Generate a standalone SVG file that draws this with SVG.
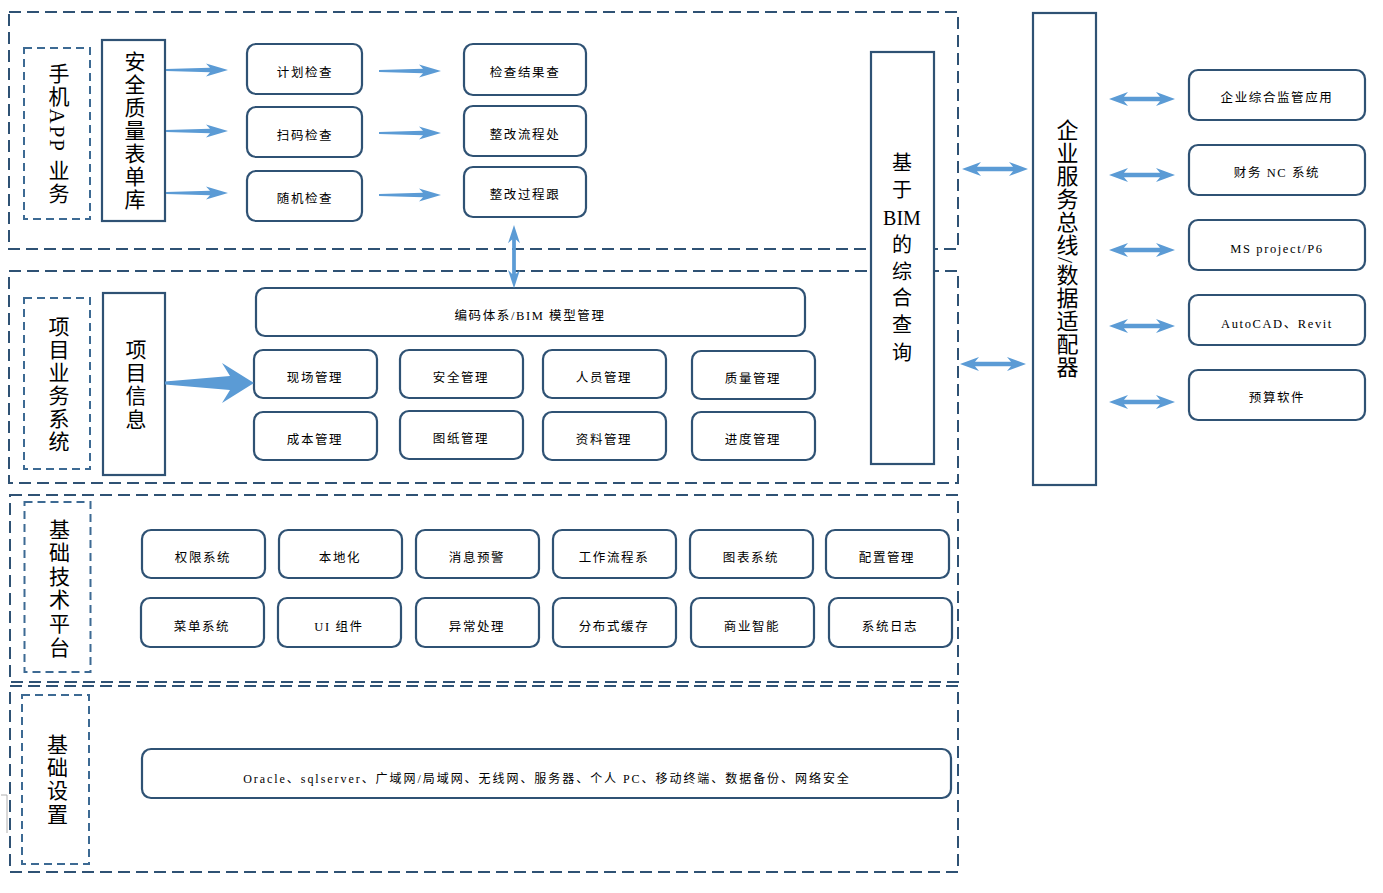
<svg xmlns="http://www.w3.org/2000/svg" xmlns:xlink="http://www.w3.org/1999/xlink" width="1383" height="893" viewBox="0 0 1383 893">
<style>
.outer{fill:none;stroke:#2f5274;stroke-width:2;stroke-dasharray:12 6}
.inner{fill:none;stroke:#3d6a93;stroke-width:2;stroke-dasharray:8 5}
.box{fill:#fff;stroke:#2f5274;stroke-width:2.2}
.rb{fill:#fff;stroke:#2f5274;stroke-width:2.2}
.lbl{font-family:"Liberation Serif","Noto Sans CJK SC",serif;font-size:12.5px;letter-spacing:1.6px;text-anchor:middle;fill:#000}
.vt{font-family:"Liberation Serif","Noto Sans CJK SC",serif;font-size:21px;writing-mode:vertical-rl;text-anchor:middle;fill:#000}
.arr{fill:#5b9bd5}
</style>
<defs>
<path id="ar" d="M0,-1 L44,-2.2 L40,-6.5 L62,0 L40,6.5 L44,2.2 L0,1 Z"/>
<path id="dar" d="M0,0 L19,-7 L15,-2.2 L51,-2.2 L47,-7 L66,0 L47,7 L51,2.2 L15,2.2 L19,7 Z"/>
</defs>
<rect width="1383" height="893" fill="#fff"/>

<g id="containers">
<rect class="outer" x="9" y="12" width="949" height="237"/>
<rect class="outer" x="9" y="271" width="949" height="212"/>
<rect class="outer" x="10" y="495" width="948" height="187"/>
<rect class="outer" x="10" y="686" width="948" height="186"/>
<path d="M1,795 H7 V833" fill="none" stroke="#b0b0b0" stroke-width="1"/>
</g>

<g id="mobile-app">
<rect class="inner" x="24" y="48" width="66" height="171"/>
<text class="vt" x="57" y="134" style="letter-spacing:2px">手机APP 业务</text>
</g>
<g id="quality-form-lib">
<rect class="box" x="102" y="40" width="63" height="181"/>
<text class="vt" x="133" y="131" style="letter-spacing:2px">安全质量表单库</text>
</g>
<g id="plan-check"><rect class="rb" x="247" y="44" width="115" height="50" rx="9"/><text class="lbl" x="305" y="76.5">计划检查</text></g>
<g id="scan-check"><rect class="rb" x="247" y="107" width="115" height="50" rx="9"/><text class="lbl" x="305" y="139.5">扫码检查</text></g>
<g id="random-check"><rect class="rb" x="247" y="171" width="115" height="50" rx="9"/><text class="lbl" x="305" y="202.5">随机检查</text></g>
<g id="check-result"><rect class="rb" x="464" y="44" width="122" height="51" rx="9"/><text class="lbl" x="525" y="76.5">检查结果查</text></g>
<g id="rectify-flow"><rect class="rb" x="464" y="106" width="122" height="50" rx="9"/><text class="lbl" x="525" y="138.5">整改流程处</text></g>
<g id="rectify-track"><rect class="rb" x="464" y="167" width="122" height="50" rx="9"/><text class="lbl" x="525" y="198.5">整改过程跟</text></g>

<g id="project-system">
<rect class="inner" x="24" y="298" width="66" height="171"/>
<text class="vt" x="57" y="385" style="letter-spacing:2px">项目业务系统</text>
</g>
<g id="project-info">
<rect class="box" x="103" y="293" width="62" height="182"/>
<text class="vt" x="134" y="385" style="letter-spacing:2.3px">项目信息</text>
</g>
<g id="bim-model"><rect class="rb" x="256" y="288" width="549" height="48" rx="9"/><text class="lbl" x="530" y="319.5">编码体系/BIM 模型管理</text></g>
<g id="site-mgmt"><rect class="rb" x="254" y="350" width="123" height="48" rx="9"/><text class="lbl" x="315" y="381.5">现场管理</text></g>
<g id="safety-mgmt"><rect class="rb" x="400" y="350" width="123" height="48" rx="9"/><text class="lbl" x="461" y="381.5">安全管理</text></g>
<g id="staff-mgmt"><rect class="rb" x="543" y="350" width="123" height="48" rx="9"/><text class="lbl" x="604" y="381.5">人员管理</text></g>
<g id="quality-mgmt"><rect class="rb" x="692" y="351" width="123" height="48" rx="9"/><text class="lbl" x="753" y="383">质量管理</text></g>
<g id="cost-mgmt"><rect class="rb" x="254" y="412" width="123" height="48" rx="9"/><text class="lbl" x="315" y="443.5">成本管理</text></g>
<g id="drawing-mgmt"><rect class="rb" x="400" y="411" width="123" height="48" rx="9"/><text class="lbl" x="461" y="442.5">图纸管理</text></g>
<g id="doc-mgmt"><rect class="rb" x="543" y="412" width="123" height="48" rx="9"/><text class="lbl" x="604" y="443.5">资料管理</text></g>
<g id="progress-mgmt"><rect class="rb" x="692" y="412" width="123" height="48" rx="9"/><text class="lbl" x="753" y="443.5">进度管理</text></g>

<g id="bim-query">
<rect class="box" x="871" y="52" width="63" height="412"/>
<text class="lbl" style="font-size:20px;letter-spacing:0" x="902"><tspan x="902" y="170">基</tspan><tspan x="902" y="197">于</tspan><tspan x="902" y="225">BIM</tspan><tspan x="902" y="252">的</tspan><tspan x="902" y="279">综</tspan><tspan x="902" y="305">合</tspan><tspan x="902" y="332">查</tspan><tspan x="902" y="360">询</tspan></text>
</g>
<g id="service-bus">
<rect class="box" x="1033" y="13" width="63" height="472"/>
<text class="vt" x="1065" y="249" style="font-size:22px;letter-spacing:1px">企业服务总线/数据适配器</text>
</g>

<g id="ext-supervision"><rect class="rb" x="1189" y="70" width="176" height="50" rx="9"/><text class="lbl" x="1277" y="101.5">企业综合监管应用</text></g>
<g id="ext-finance"><rect class="rb" x="1189" y="145" width="176" height="50" rx="9"/><text class="lbl" x="1277" y="176.5">财务 NC 系统</text></g>
<g id="ext-project"><rect class="rb" x="1189" y="220" width="176" height="50" rx="9"/><text class="lbl" x="1277" y="252.5">MS project/P6</text></g>
<g id="ext-cad"><rect class="rb" x="1189" y="295" width="176" height="50" rx="9"/><text class="lbl" x="1277" y="327.5">AutoCAD、Revit</text></g>
<g id="ext-budget"><rect class="rb" x="1189" y="370" width="176" height="50" rx="9"/><text class="lbl" x="1277" y="401.5">预算软件</text></g>

<g id="tech-platform">
<rect class="inner" x="24.5" y="502" width="66" height="170"/>
<text class="vt" x="57.5" y="589" style="letter-spacing:2.6px">基础技术平台</text>
</g>
<g id="perm"><rect class="rb" x="142" y="530" width="123" height="48" rx="9"/><text class="lbl" x="203" y="561.5">权限系统</text></g>
<g id="local"><rect class="rb" x="279" y="530" width="123" height="48" rx="9"/><text class="lbl" x="340" y="561.5">本地化</text></g>
<g id="msg"><rect class="rb" x="416" y="530" width="123" height="48" rx="9"/><text class="lbl" x="477" y="561.5">消息预警</text></g>
<g id="workflow"><rect class="rb" x="553" y="530" width="123" height="48" rx="9"/><text class="lbl" x="614" y="561.5">工作流程系</text></g>
<g id="chart"><rect class="rb" x="690" y="530" width="123" height="48" rx="9"/><text class="lbl" x="751" y="561.5">图表系统</text></g>
<g id="config"><rect class="rb" x="826" y="530" width="123" height="48" rx="9"/><text class="lbl" x="887" y="561.5">配置管理</text></g>
<g id="menu"><rect class="rb" x="141" y="598" width="123" height="49" rx="9"/><text class="lbl" x="202" y="631">菜单系统</text></g>
<g id="ui"><rect class="rb" x="278" y="598" width="123" height="49" rx="9"/><text class="lbl" x="339" y="631">UI 组件</text></g>
<g id="exception"><rect class="rb" x="416" y="598" width="123" height="49" rx="9"/><text class="lbl" x="477" y="631">异常处理</text></g>
<g id="cache"><rect class="rb" x="553" y="598" width="123" height="49" rx="9"/><text class="lbl" x="614" y="631">分布式缓存</text></g>
<g id="bi"><rect class="rb" x="691" y="598" width="123" height="49" rx="9"/><text class="lbl" x="752" y="631">商业智能</text></g>
<g id="log"><rect class="rb" x="829" y="598" width="123" height="49" rx="9"/><text class="lbl" x="890" y="631">系统日志</text></g>

<g id="infrastructure">
<rect class="inner" x="22" y="695" width="67" height="169"/>
<text class="vt" x="55.5" y="780" style="letter-spacing:2.3px">基础设置</text>
</g>
<g id="infra-items"><rect class="rb" x="142" y="749" width="809" height="49" rx="9"/><text class="lbl" x="547" y="783" style="font-size:12px;letter-spacing:1.95px">Oracle、sqlserver、广域网/局域网、无线网、服务器、个人 PC、移动终端、数据备份、网络安全</text></g>

<g id="connectors" class="arr">
<use xlink:href="#ar" x="166" y="70"/>
<use xlink:href="#ar" x="166" y="131"/>
<use xlink:href="#ar" x="166" y="193"/>
<use xlink:href="#ar" x="379" y="71"/>
<use xlink:href="#ar" x="379" y="133"/>
<use xlink:href="#ar" x="379" y="195"/>
<use xlink:href="#dar" transform="translate(514,225) rotate(90) scale(0.96,0.85)"/>
<path d="M165,381.5 L230,376 L222,363 L254,383 L222,403 L230,390 L165,384.5 Z"/>
<use xlink:href="#dar" x="962" y="169"/>
<use xlink:href="#dar" x="960" y="364"/>
<use xlink:href="#dar" x="1109" y="99"/>
<use xlink:href="#dar" x="1109" y="175"/>
<use xlink:href="#dar" x="1109" y="250"/>
<use xlink:href="#dar" x="1109" y="326"/>
<use xlink:href="#dar" x="1109" y="402"/>
</g>
</svg>
